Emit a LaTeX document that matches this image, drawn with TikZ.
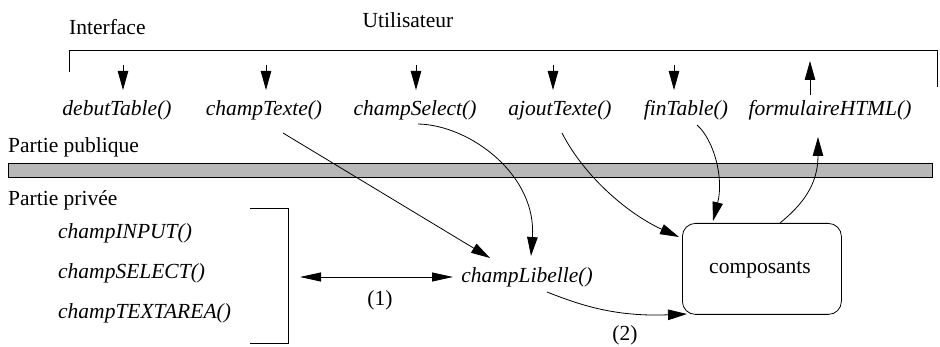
\documentclass[tikz,border=0pt]{standalone}
\usepackage{fontspec}
\setmainfont{Liberation Serif}
\usetikzlibrary{arrows.meta}
\begin{document}
\begin{tikzpicture}[x=1pt,y=-1pt,
  arr/.style={-{Triangle[length=19pt,width=10.5pt]}, line width=0.8pt},
  dbl/.style={{Triangle[length=21pt,width=9pt]}-{Triangle[length=21pt,width=9pt]}, line width=0.8pt},
  ln/.style={line width=0.8pt},
  fn/.style={font=\fontsize{21.5}{24}\selectfont\itshape, inner sep=1pt},
  lab/.style={font=\fontsize{21.5}{24}\selectfont, inner sep=1pt}]
\useasboundingbox (0,0) rectangle (940,347);
% titles
\node[lab, anchor=west] (iface) at (68,27) {Interface};
\node[lab] (util) at (408,20) {Utilisateur};
\draw[ln] (69,72) -- (69,50) -- (937,50) -- (937,87);
% public functions
\node[fn] (dt) at (117,110) {debutTable()};
\node[fn] (ct) at (264,110) {champTexte()};
\node[fn] (cs) at (415,110) {champSelect()};
\node[fn] (at) at (560,110) {ajoutTexte()};
\node[fn] (ft) at (686,110) {finTable()};
\node[fn] (fh) at (830,110) {formulaireHTML()};
\coordinate (dtA) at (123,65);
\coordinate (ctA) at (266,65);
\coordinate (csA) at (416,65);
\coordinate (atA) at (553,65);
\coordinate (ftA) at (674,65);
\coordinate (fhA) at (810,61);
\coordinate (fhB) at (810,95);
\draw[arr] (dtA) -- (dtA |- 0,90);
\draw[arr] (ctA) -- (ctA |- 0,90);
\draw[arr] (csA) -- (csA |- 0,90);
\draw[arr] (atA) -- (atA |- 0,90);
\draw[arr] (ftA) -- (ftA |- 0,90);
\draw[arr] (fhB) -- (fhA);
% public/private
\node[lab, anchor=west] (pub) at (7,147) {Partie publique};
\node[draw, line width=0.8pt, fill=black!28, minimum width=924pt, minimum height=14pt, inner sep=0pt, anchor=north west] (bar) at (8,163) {};
\node[lab, anchor=west] (priv) at (7,200) {Partie privée};
\node[fn, anchor=west] (ci) at (57,233) {champINPUT()};
\node[fn, anchor=west] (cse) at (57,273) {champSELECT()};
\node[fn, anchor=west] (cta) at (57,313) {champTEXTAREA()};
\draw[ln] (250,208) -- (288,208) -- (288,343) -- (250,343);
\node[fn] (cl) at (527,277) {champLibelle()};
\coordinate (brR) at (300,277);
\coordinate (clW) at (453,277);
\draw[dbl] (brR) -- (clW);
\node[lab] (one) at (380,300) {(1)};
\node[draw, line width=0.8pt, rounded corners=13pt, minimum width=159pt, minimum height=91pt, anchor=north west] (comp) at (682,223) {};
\node[lab] (comptxt) at (760,270) {composants};
\node[lab] (two) at (625,335) {(2)};
% connectors
\coordinate (ctS) at (283,133);
\coordinate (clT) at (490,258);
\draw[arr] (ctS) -- (clT);
\coordinate (csS) at (418,124);
\coordinate (clT2) at (531,256);
\draw[arr] (csS) .. controls (470,125) and (537,175) .. (clT2);
\coordinate (atS) at (562,133);
\coordinate (coT1) at (679,237);
\draw[arr] (atS) .. controls (585,178) and (630,215) .. (coT1);
\coordinate (ftS) at (697,125);
\coordinate (coT2) at (713,221);
\draw[arr] (ftS) .. controls (714,140) and (724,178) .. (coT2);
\coordinate (coS) at (780,223);
\coordinate (fhT) at (818,137);
\draw[arr] (coS) .. controls (802,205) and (818,185) .. (fhT);
\coordinate (clS) at (547,292);
\coordinate (coT3) at (687,314);
\draw[arr] (clS) .. controls (580,305) and (615,317) .. (coT3);
\end{tikzpicture}
\end{document}
